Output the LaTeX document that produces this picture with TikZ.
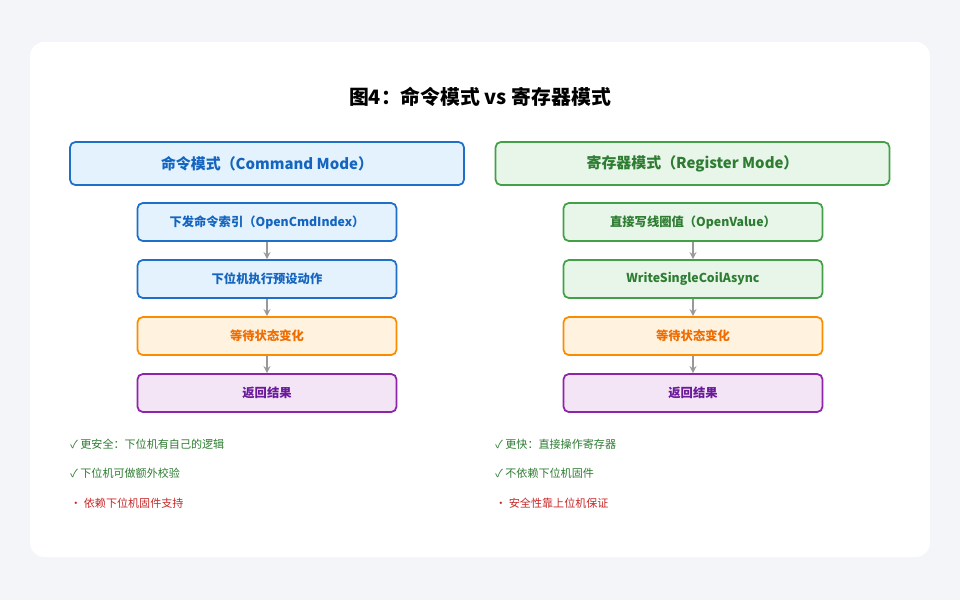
\documentclass[tikz,border=0pt]{standalone}
\usepackage{fontspec}
\setmainfont{Noto Sans CJK SC}
\usetikzlibrary{positioning}
\definecolor{bgc}{HTML}{F4F5F9}
\definecolor{bluef}{HTML}{E3F2FD}\definecolor{blued}{HTML}{1E6FC8}\definecolor{bluet}{HTML}{1565C0}
\definecolor{greenf}{HTML}{E8F5E9}\definecolor{greend}{HTML}{43A047}\definecolor{greent}{HTML}{2E7D32}
\definecolor{orf}{HTML}{FFF3E0}\definecolor{ord}{HTML}{FB8C00}\definecolor{ort}{HTML}{EF6C00}
\definecolor{puf}{HTML}{F3E5F5}\definecolor{pud}{HTML}{8E24AA}\definecolor{put}{HTML}{6A1B9A}
\definecolor{redt}{HTML}{C62828}
\begin{document}
\begin{tikzpicture}[x=0.02cm, y=-0.02cm,
    head/.style={draw, line width=1pt, rounded corners=3pt, minimum width=7.88cm,
      minimum height=0.86cm, font=\bfseries\fontsize{8.5}{10}\selectfont},
    box/.style={draw, line width=1pt, rounded corners=3pt, minimum width=5.18cm,
      minimum height=0.76cm, font=\bfseries\fontsize{7}{8}\selectfont},
    bluebox/.style={fill=bluef, draw=blued, text=bluet},
    greenbox/.style={fill=greenf, draw=greend, text=greent},
    waitbox/.style={box, fill=orf, draw=ord, text=ort},
    endbox/.style={box, fill=puf, draw=pud, text=put},
    note/.style={anchor=west, inner sep=0pt, font=\fontsize{6.3}{7}\selectfont},
    link/.style={-stealth, draw=gray!80, line width=0.8pt}]
  \fill[bgc] (0,0) rectangle (960,600);
  \fill[white, rounded corners=8pt] (30,42) rectangle (930,557);
  \node (title) at (480,97) {\bfseries\fontsize{11.3}{13}\selectfont 图4：命令模式 vs 寄存器模式};

  % command mode
  \node[head, bluebox] (ch) at (267,163.5) {命令模式（Command Mode）};
  \node[box, bluebox] (c0) at (267,222) {下发命令索引（OpenCmdIndex）};
  \node[box, bluebox] (c1) at (267,279) {下位机执行预设动作};
  \node[waitbox] (c2) at (267,336) {等待状态变化};
  \node[endbox] (c3) at (267,393) {返回结果};
  \foreach \a/\b in {c0/c1, c1/c2, c2/c3} \draw[link] (\a) -- (\b);
  \node[note, text=greent] (cn0) at (70,444) {✓ 更安全：下位机有自己的逻辑};
  \node[note, text=greent] (cn1) at (70,473) {✓ 下位机可做额外校验};
  \node[note, text=redt] (cn2) at (70,503) {· 依赖下位机固件支持};

  % register mode
  \node[head, greenbox] (rh) at (692.5,163.5) {寄存器模式（Register Mode）};
  \node[box, greenbox] (r0) at (693,222) {直接写线圈值（OpenValue）};
  \node[box, greenbox] (r1) at (693,279) {WriteSingleCoilAsync};
  \node[waitbox] (r2) at (693,336) {等待状态变化};
  \node[endbox] (r3) at (693,393) {返回结果};
  \foreach \a/\b in {r0/r1, r1/r2, r2/r3} \draw[link] (\a) -- (\b);
  \node[note, text=greent] (rn0) at (495,444) {✓ 更快：直接操作寄存器};
  \node[note, text=greent] (rn1) at (495,473) {✓ 不依赖下位机固件};
  \node[note, text=redt] (rn2) at (495,503) {· 安全性靠上位机保证};
\end{tikzpicture}
\end{document}
